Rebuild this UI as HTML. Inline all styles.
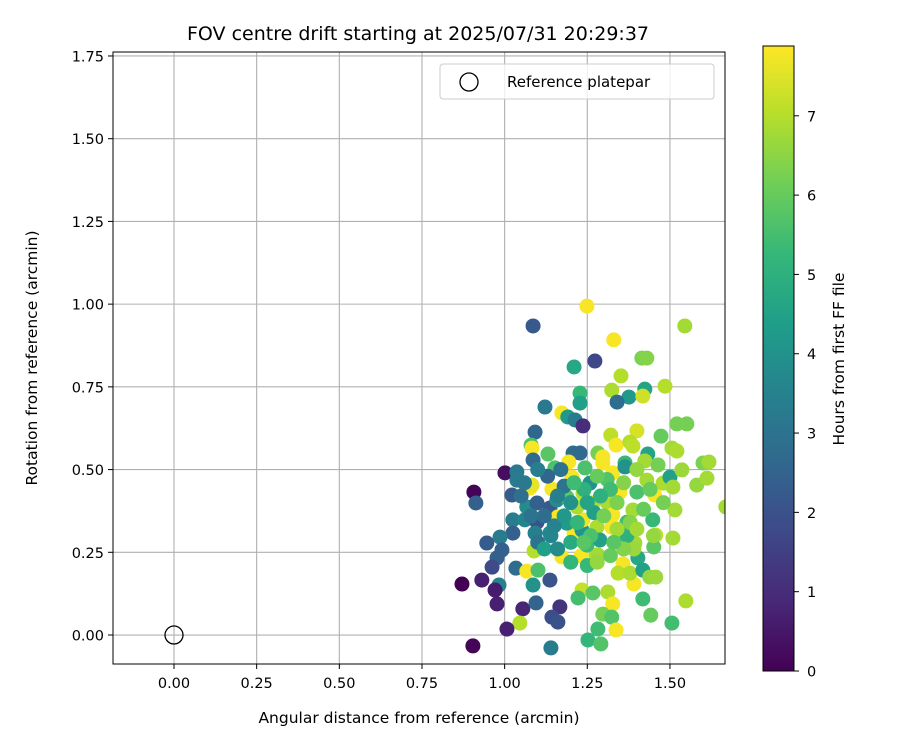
<!DOCTYPE html>
<html><head><meta charset="utf-8"><style>
body{margin:0;background:#fff;}
svg{display:block;font-family:"DejaVu Sans","Liberation Sans",sans-serif;}
</style></head><body>
<svg id="chart" width="900" height="750" xmlns="http://www.w3.org/2000/svg"></svg>
<script>
const xTicks=[0,0.25,0.5,0.75,1.0,1.25,1.5];
const yTicks=[0,0.25,0.5,0.75,1.0,1.25,1.5,1.75];
const cTicks=[0,1,2,3,4,5,6,7];
const xDist=[1.249,1.086,1.545,1.330,1.273,1.210,1.415,1.430,1.352,1.485,1.324,1.424,1.376,1.340,1.418,1.228,1.228,1.122,1.173,1.191,1.213,1.237,1.092,1.521,1.551,1.080,1.083,1.321,1.400,1.473,1.337,1.379,1.388,1.506,1.521,1.086,1.131,1.207,1.228,1.282,1.297,1.194,1.364,1.433,1.424,1.464,1.600,1.618,0.907,0.913,1.001,1.037,1.037,1.077,1.083,1.143,1.022,1.067,1.098,1.137,1.161,1.025,1.061,1.098,1.025,1.092,1.137,1.210,0.946,0.986,0.992,0.977,0.962,1.034,1.067,1.101,1.089,1.173,1.137,1.086,0.983,0.871,0.931,0.971,0.977,1.055,1.095,1.167,1.143,1.161,1.046,1.007,0.904,1.140,1.231,1.276,1.234,1.222,1.267,1.312,1.327,1.297,1.324,1.337,1.282,1.252,1.291,1.418,1.442,1.506,1.548,1.391,1.358,1.343,1.379,1.403,1.418,1.439,1.457,1.457,1.509,1.451,1.394,1.391,1.343,1.282,1.249,1.234,1.188,1.158,1.237,1.204,1.243,1.297,1.327,1.364,1.349,1.309,1.327,1.324,1.237,1.279,1.288,1.370,1.388,1.400,1.430,1.454,1.479,1.500,1.515,1.448,1.509,1.536,1.581,1.612,1.669,1.267,1.219,1.188,1.258,1.152,1.15,1.20,1.27,1.31,1.37,1.25,1.10,1.18,1.05,1.34,
1.12,1.16,1.20,1.24,1.28,1.32,1.36,1.40,1.44,1.14,1.18,1.22,1.26,1.30,1.34,1.38,1.42,1.08,1.12,1.16,1.20,1.24,1.28,1.32,1.36,1.40,1.13,1.17,1.21,1.25,1.29,1.33,1.06,1.10,1.45,1.48];
const yRot=[0.994,0.934,0.934,0.892,0.828,0.810,0.837,0.837,0.783,0.752,0.740,0.743,0.719,0.704,0.722,0.731,0.701,0.689,0.671,0.659,0.650,0.632,0.613,0.638,0.638,0.574,0.565,0.604,0.617,0.601,0.574,0.583,0.571,0.565,0.556,0.529,0.547,0.550,0.550,0.550,0.538,0.523,0.520,0.547,0.526,0.514,0.520,0.523,0.432,0.399,0.490,0.493,0.468,0.444,0.453,0.441,0.423,0.387,0.399,0.384,0.357,0.348,0.348,0.341,0.308,0.308,0.308,0.308,0.278,0.296,0.257,0.233,0.205,0.202,0.193,0.196,0.254,0.236,0.166,0.151,0.151,0.154,0.166,0.136,0.094,0.079,0.097,0.085,0.054,0.039,0.036,0.018,-0.033,-0.039,0.239,0.242,0.136,0.112,0.127,0.130,0.094,0.063,0.054,0.015,0.018,-0.015,-0.027,0.109,0.060,0.036,0.103,0.154,0.215,0.187,0.187,0.233,0.196,0.175,0.175,0.302,0.293,0.266,0.278,0.260,0.284,0.242,0.272,0.317,0.338,0.408,0.429,0.477,0.505,0.520,0.490,0.508,0.432,0.402,0.363,0.326,0.348,0.326,0.287,0.341,0.378,0.432,0.468,0.423,0.459,0.477,0.378,0.348,0.447,0.499,0.453,0.474,0.387,0.399,0.387,0.417,0.459,0.505,0.33,0.28,0.37,0.47,0.30,0.21,0.28,0.45,0.42,0.40,
0.36,0.42,0.40,0.44,0.48,0.44,0.46,0.50,0.44,0.30,0.36,0.34,0.30,0.36,0.32,0.34,0.38,0.36,0.26,0.26,0.22,0.28,0.22,0.24,0.26,0.32,0.48,0.50,0.46,0.40,0.42,0.28,0.46,0.50,0.30,0.40];
const hours=[7.8,2.2,6.8,7.8,1.7,4.7,6.3,6.4,7.0,7.0,6.9,4.6,4.2,2.8,7.3,5.3,4.4,3.2,7.8,4.2,3.3,1.0,2.6,6.2,6.2,5.6,7.8,7.1,7.4,6.0,7.8,7.0,7.1,6.8,6.9,2.7,5.8,2.8,2.7,6.2,7.8,7.8,5.3,4.6,6.8,6.2,6.3,6.8,0.1,2.4,0.3,3.2,3.3,7.8,7.6,7.8,2.3,3.8,2.4,2.2,7.8,3.3,3.6,2.0,2.4,3.4,3.8,7.8,2.3,3.3,2.4,2.4,1.8,2.8,7.8,5.6,7.0,7.8,2.1,4.0,3.5,0.0,0.7,0.6,0.7,0.8,2.5,1.2,1.9,2.0,7.0,0.7,0.1,3.3,7.8,7.0,7.2,5.5,5.8,6.9,7.8,6.2,5.7,7.8,5.4,5.2,5.7,5.4,6.0,5.5,6.9,7.8,7.8,7.0,6.9,4.7,4.5,6.6,6.7,7.1,6.8,5.8,6.8,6.7,7.0,6.8,5.4,4.1,4.3,3.8,7.0,7.8,5.6,7.8,7.8,4.0,7.8,6.9,7.8,7.8,7.7,6.9,4.5,5.5,6.8,5.6,6.8,7.8,6.9,4.5,6.8,5.3,6.8,6.7,6.6,6.8,6.8,6.9,6.9,5.8,4.0,5.6,3.5,4.8,4.4,5.7,5.0,5.3,3.0,3.0,2.9,6.3,
2.8,3.4,4.0,5.0,6.0,5.4,6.4,6.6,6.0,3.6,4.2,5.2,5.6,6.2,6.8,6.4,6.0,3.0,4.4,3.8,5.2,5.8,6.6,6.0,6.4,6.8,2.6,3.0,5.4,4.6,5.0,5.8,3.2,3.4,6.6,6.2];
const hMax=7.88;

const NS="http://www.w3.org/2000/svg";
const svg=document.getElementById('chart');
function mk(t,a,p){const e=document.createElementNS(NS,t);for(const k in a)e.setAttribute(k,a[k]);(p||svg).appendChild(e);return e;}
const L=113,R=725,T=52,B=664;
const X0=-0.1845,X1=1.6665,Y0=-0.0876,Y1=1.762;
const sx=v=>L+(v-X0)/(X1-X0)*(R-L);
const sy=v=>B-(v-Y0)/(Y1-Y0)*(B-T);
const VIR=["#440154","#482878","#3e4989","#31688e","#26828e","#1f9e89","#35b779","#6ece58","#b5de2b","#fde725"];
function hex(h){return [1,3,5].map(i=>parseInt(h.substr(i,2),16));}
function vir(t){t=Math.max(0,Math.min(1,t));const f=t*9,i=Math.min(8,Math.floor(f)),r=f-i;const a=hex(VIR[i]),b=hex(VIR[i+1]);return 'rgb('+a.map((c,k)=>Math.round(c+(b[k]-c)*r)).join(',')+')';}

let t=mk('text',{x:418,y:40,'text-anchor':'middle','font-size':'19'});t.textContent='FOV centre drift starting at 2025/07/31 20:29:37';



const grid=mk('g',{});


xTicks.forEach(v=>{
  const l=mk('line',{x1:sx(v),x2:sx(v),y1:T,y2:B,stroke:'#b0b0b0','stroke-width':1.1},grid);
  
  
  mk('line',{x1:sx(v),x2:sx(v),y1:B,y2:B+5,stroke:'#000'});
  const tx=mk('text',{x:sx(v),y:B+24,'text-anchor':'middle','font-size':'14.5'});tx.textContent=v.toFixed(2);
  
  
});
yTicks.forEach(v=>{
  const l=mk('line',{x1:L,x2:R,y1:sy(v),y2:sy(v),stroke:'#b0b0b0','stroke-width':1.1},grid);
  
  
  mk('line',{x1:L-5,x2:L,y1:sy(v),y2:sy(v),stroke:'#000'});
  const tx=mk('text',{x:L-9,y:sy(v)+5.5,'text-anchor':'end','font-size':'14.5'});tx.textContent=v.toFixed(2);
  
  
});

const defs=mk('defs',{});const cp=mk('clipPath',{id:'clip'},defs);mk('rect',{x:L,y:T,width:R-L,height:B-T},cp);
const pts=mk('g',{'clip-path':'url(#clip)'});


xDist.forEach((x,i)=>{
  const c=mk('circle',{cx:sx(x),cy:sy(yRot[i]),r:7.5,fill:vir(hours[i]/hMax)},pts);
  
  
});
const ref=mk('circle',{cx:sx(0),cy:sy(0),r:9,fill:'none',stroke:'#000','stroke-width':1.3});



const fr=mk('rect',{x:L,y:T,width:R-L,height:B-T,fill:'none',stroke:'#000','stroke-width':1});



t=mk('text',{x:419,y:723,'text-anchor':'middle','font-size':'15.5'});t.textContent='Angular distance from reference (arcmin)';


t=mk('text',{x:37,y:358,'text-anchor':'middle','font-size':'15.5',transform:'rotate(-90 37 358)'});t.textContent='Rotation from reference (arcmin)';



const lg=mk('g',{});


mk('rect',{x:440,y:64,width:274,height:35,rx:3,fill:'#fff','fill-opacity':0.8,stroke:'#ccc'},lg);
mk('circle',{cx:469,cy:82,r:9,fill:'none',stroke:'#000','stroke-width':1.3},lg);
t=mk('text',{x:507,y:87,'font-size':'15'},lg);t.textContent='Reference platepar';



const cb=mk('g',{});


const CT=46,CB=671,CL=763,CW=31;
const gr=mk('linearGradient',{id:'vg',x1:0,y1:1,x2:0,y2:0},defs);
VIR.forEach((c,i)=>mk('stop',{offset:i/9,'stop-color':c},gr));
mk('rect',{x:CL,y:CT,width:CW,height:CB-CT,fill:'url(#vg)',stroke:'#000','stroke-width':1},cb);
const cy=v=>CB-v/hMax*(CB-CT);
cTicks.forEach(v=>{
  mk('line',{x1:CL+CW,x2:CL+CW+5,y1:cy(v),y2:cy(v),stroke:'#000'},cb);
  const tx=mk('text',{x:CL+CW+13,y:cy(v)+5.5,'font-size':'14.5'},cb);tx.textContent=v;
  
  
});
t=mk('text',{x:844,y:359,'text-anchor':'middle','font-size':'15.5',transform:'rotate(-90 844 359)'});t.textContent='Hours from first FF file';


</script>
</body></html>
